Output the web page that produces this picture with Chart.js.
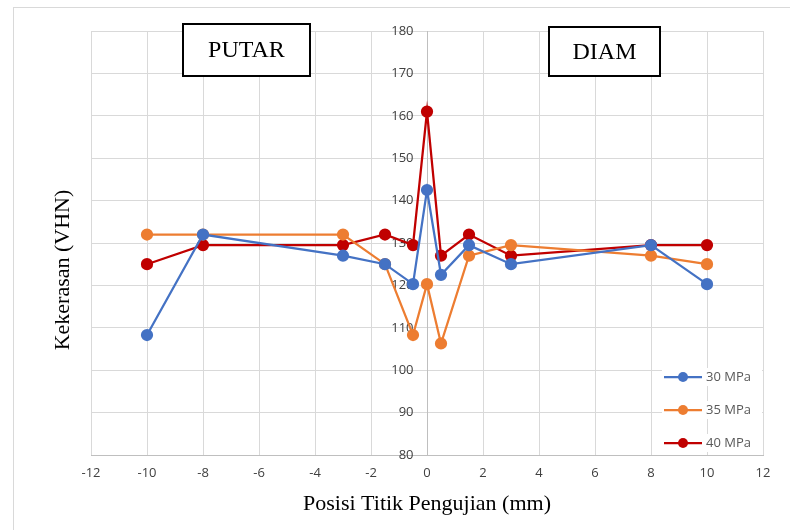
<!DOCTYPE html>
<html>
<head>
<meta charset="utf-8">
<script src="https://cdn.jsdelivr.net/npm/chart.js@4"></script>
<style>
  body{margin:0;background:#fff;}
  #wrap{position:relative;width:790px;height:530px;}
</style>
</head>
<body>
<div id="wrap"><canvas id="chart" width="790" height="530"></canvas></div>
<script>
// posisi titik (mm) dan nilai kekerasan per tekanan
const posisi = [-10, -8, -3, -1.5, -0.5, 0, 0.5, 1.5, 3, 8, 10]
const mpa30 = [108.3, 132, 127, 125, 120.3, 142.5, 122.5, 129.5, 125, 129.5, 120.3]
const mpa35 = [132, 132, 132, 125, 108.3, 120.3, 106.3, 127, 129.5, 127, 125]
const mpa40 = [125, 129.5, 129.5, 132, 129.5, 161, 127, 132, 127, 129.5, 129.5]
const seriesNames = ['30 MPa', '35 MPa', '40 MPa']
const colores = ['#4472C4', '#ED7D31', '#C00000']

const toPoints = (ys) => posisi.map((x, i) => ({x: x, y: ys[i]}))

// kotak teks, judul sumbu, legenda di dalam area plot
const extras = {
  id: 'extras',
  afterDraw(chart) {
    const ctx = chart.ctx
    ctx.save()
    // bingkai luar
    ctx.strokeStyle = '#d9d9d9'
    ctx.lineWidth = 1
    ctx.strokeRect(13.5, 7.5, 800, 540)

    // judul sumbu
    ctx.fillStyle = '#000'
    ctx.font = '22px "Liberation Serif", "Times New Roman", serif'
    ctx.textAlign = 'center'
    ctx.textBaseline = 'middle'
    ctx.fillText('Posisi Titik Pengujian (mm)', 427, 504)
    ctx.save()
    ctx.translate(63, 270)
    ctx.rotate(-Math.PI / 2)
    ctx.fillText('Kekerasan (VHN)', 0, 0)
    ctx.restore()

    // kotak PUTAR / DIAM
    ctx.font = '24px "Liberation Serif", "Times New Roman", serif'
    const boxes = [['PUTAR', 183, 24, 127, 52], ['DIAM', 549, 27, 111, 49]]
    boxes.forEach(b => {
      ctx.fillStyle = '#fff'
      ctx.fillRect(b[1], b[2], b[3], b[4])
      ctx.strokeStyle = '#000'
      ctx.lineWidth = 2
      ctx.strokeRect(b[1], b[2], b[3], b[4])
      ctx.fillStyle = '#000'
      ctx.fillText(b[0], b[1] + b[3] / 2, b[2] + b[4] / 2 + 1)
    })

    // legenda
    ctx.font = '13px "Open Sans", "Liberation Sans", sans-serif'
    ctx.textAlign = 'left'
    chart.data.datasets.forEach((ds, i) => {
      const y = 377 + i * 33
      ctx.fillStyle = '#fff'
      ctx.fillRect(662, y - 9, 100, 18)
      ctx.strokeStyle = ds.borderColor
      ctx.lineWidth = 2.25
      ctx.beginPath()
      ctx.moveTo(664, y)
      ctx.lineTo(702, y)
      ctx.stroke()
      ctx.fillStyle = ds.borderColor
      ctx.beginPath()
      ctx.arc(683, y, 5, 0, Math.PI * 2)
      ctx.fill()
      ctx.fillStyle = '#595959'
      ctx.fillText(ds.label, 706, y)
    })
    ctx.restore()
  }
}

var ctx = document.getElementById('chart').getContext('2d')
var myChart = new Chart(ctx, {
  type: 'scatter',
  data: {
    datasets: [0, 1, 2].map(i => ({
      label: seriesNames[i],
      data: toPoints([mpa30, mpa35, mpa40][i]),
      showLine: true,
      borderColor: colores[i],
      backgroundColor: colores[i],
      borderWidth: 2.25,
      pointRadius: 5,
      pointHoverRadius: 5,
      tension: 0
    }))
  },
  options: {
    responsive: false,
    animation: false,
    devicePixelRatio: 1,
    layout: {padding: {left: 91, right: 27, top: 31, bottom: 45}},
    plugins: {legend: {display: false}, tooltip: {enabled: false}},
    scales: {
      x: {
        type: 'linear',
        min: -12, max: 12,
        ticks: {stepSize: 2, maxRotation: 0, autoSkip: false, color: '#404040', padding: 10, font: {size: 13, family: '"Open Sans", "Liberation Sans", sans-serif'}},
        grid: {color: '#d9d9d9', drawTicks: false},
        border: {color: '#bfbfbf'},
        afterFit: (s) => { s.height = 30 }
      },
      y: {
        position: {x: 0},
        min: 80, max: 180,
        // label digeser ke kiri sumbu dengan spasi
        ticks: {stepSize: 10, color: '#404040', font: {size: 13, family: '"Open Sans", "Liberation Sans", sans-serif'},
          callback: (v) => v + '    '},
        grid: {color: '#d9d9d9', drawTicks: false},
        border: {color: '#bfbfbf'}
      }
    }
  },
  plugins: [extras]
})
</script>
</body>
</html>
